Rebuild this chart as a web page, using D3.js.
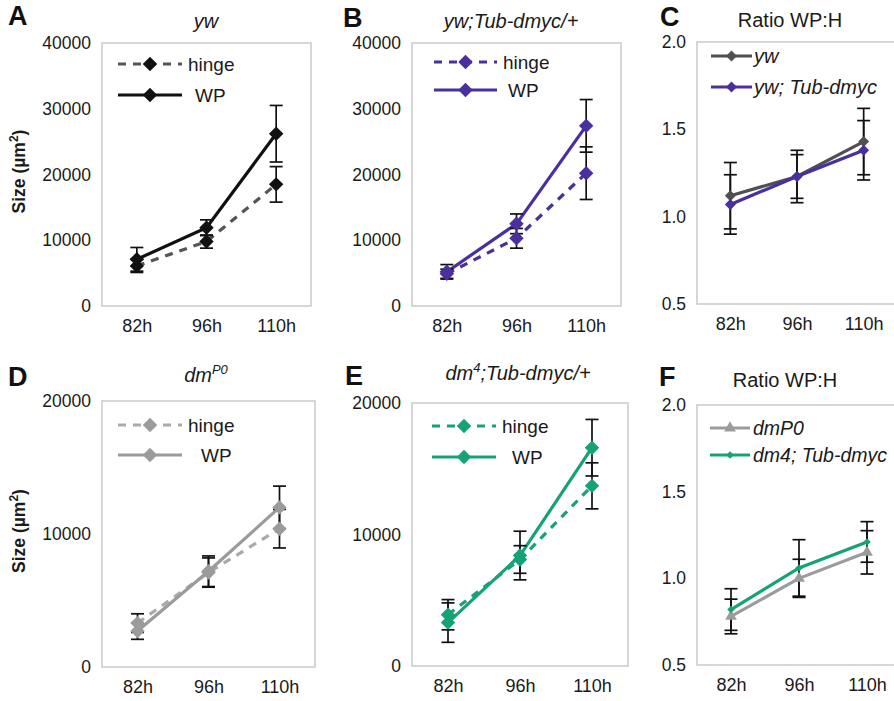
<!DOCTYPE html>
<html>
<head>
<meta charset="utf-8">
<script src="https://cdn.jsdelivr.net/npm/d3@7"></script>
<style>
  body { margin: 0; background: #fff; }
  text { font-family: "Liberation Sans", Arial, sans-serif; }
</style>
</head>
<body>
<svg id="fig" width="894" height="701"></svg>
<script>
// time points (x categories)
const times = ["82h", "96h", "110h"];

// A: yw, sizes in um^2
const ywHinge = [6100, 9800, 18500];
const ywHingeErr = [1000, 1000, 2700];
const ywWP = [7100, 11900, 26200];
const ywWPErr = [1800, 1200, 4300];

// B: yw;Tub-dmyc/+
const mycHinge = [4900, 10300, 20200];
const mycHingeErr = [700, 1500, 4000];
const mycWP = [5200, 12500, 27400];
const mycWPErr = [1100, 1500, 4000];

// C: ratio WP:H
const ratioYw = [1.12, 1.23, 1.43];
const ratioYwErr = [0.19, 0.15, 0.19];
const ratioMyc = [1.07, 1.23, 1.38];
const ratioMycErr = [0.17, 0.125, 0.17];

// D: dmP0
const p0Hinge = [3300, 7100, 10400];
const p0HingeErr = [700, 1100, 1450];
const p0WP = [2700, 7200, 12000];
const p0WPErr = [620, 1150, 1600];

// E: dm4;Tub-dmyc/+
const dm4Hinge = [3900, 8100, 13700];
const dm4HingeErr = [1150, 1050, 1750];
const dm4WP = [3300, 8400, 16600];
const dm4WPErr = [1500, 1850, 2150];

// F: ratio WP:H
const ratioP0 = [0.78, 1.0, 1.15];
const ratioP0Err = [0.10, 0.11, 0.125];
const ratioDm4 = [0.82, 1.06, 1.21];
const ratioDm4Err = [0.12, 0.163, 0.117];

// tick values
const sizeTicks40 = [0, 10000, 20000, 30000, 40000];
const sizeTicks20 = [0, 10000, 20000];
const ratioTicks = [0.5, 1.0, 1.5, 2.0];

const black = "#111", purple = "#4a2f9e", green = "#16a277", grey = "#9b9b9b", dark = "#505050";
const FONT = '"Liberation Sans", Arial, sans-serif';

let svg = d3.select("#fig");
svg.append("rect").attr("width", 894).attr("height", 701).attr("fill", "#fff");

function diamond(size) {
  return { path: d3.symbol().type(d3.symbolSquare).size(size)(), rot: 45 };
}
function triangle(size) {
  return { path: d3.symbol().type(d3.symbolTriangle).size(size)(), rot: 0 };
}

function drawPanel(p) {
  let g = svg.append("g");
  let x = d3.scalePoint().domain(times).range([p.x, p.x + p.w]).padding(0.5);
  let y = d3.scaleLinear().domain(p.yDomain).range([p.y + p.h, p.y]);

  // plot frame
  g.append("rect")
    .attr("x", p.x).attr("y", p.y)
    .attr("width", p.w).attr("height", p.h)
    .attr("fill", "none")
    .attr("stroke", "#cdcdcd")
    .attr("stroke-width", 1.6);

  // y axis labels
  let ya = g.append("g")
    .attr("transform", `translate(${p.x},0)`)
    .call(d3.axisLeft(y).tickValues(p.yTicks).tickFormat(p.fmt).tickSize(0).tickPadding(11));
  ya.select(".domain").remove();
  ya.attr("font-family", FONT).attr("font-size", 17.5);
  ya.selectAll("text").attr("fill", "#1a1a1a");

  // x axis labels
  let xa = g.append("g")
    .attr("transform", `translate(0,${p.y + p.h})`)
    .call(d3.axisBottom(x).tickSize(0).tickPadding(13));
  xa.select(".domain").remove();
  xa.attr("font-family", FONT).attr("font-size", 18);
  xa.selectAll("text").attr("fill", "#1a1a1a");

  let line = d3.line().x(d => x(d.t)).y(d => y(d.v));

  // lines
  p.series.forEach(s => {
    let pts = times.map((t, i) => ({ t: t, v: s.values[i], e: s.errs[i] }));
    s.pts = pts;
    g.append("path")
      .datum(pts)
      .attr("d", line)
      .attr("fill", "none")
      .attr("stroke", s.line)
      .attr("stroke-width", s.width || 3.2)
      .attr("stroke-dasharray", s.dash || null);
  });

  // error bars
  p.series.forEach(s => {
    let eb = g.append("g").selectAll("g").data(s.pts).enter().append("g")
      .attr("stroke", black).attr("stroke-width", 1.7);
    eb.append("line")
      .attr("x1", d => x(d.t)).attr("x2", d => x(d.t))
      .attr("y1", d => y(d.v - d.e)).attr("y2", d => y(d.v + d.e));
    eb.append("line")
      .attr("x1", d => x(d.t) - 6.5).attr("x2", d => x(d.t) + 6.5)
      .attr("y1", d => y(d.v + d.e)).attr("y2", d => y(d.v + d.e));
    eb.append("line")
      .attr("x1", d => x(d.t) - 6.5).attr("x2", d => x(d.t) + 6.5)
      .attr("y1", d => y(d.v - d.e)).attr("y2", d => y(d.v - d.e));
  });

  // markers
  p.series.forEach(s => {
    g.append("g").selectAll("path").data(s.pts).enter().append("path")
      .attr("d", s.marker.path)
      .attr("transform", d => `translate(${x(d.t)},${y(d.v)}) rotate(${s.marker.rot})`)
      .attr("fill", s.color);
  });

  // legend
  p.series.forEach((s, i) => {
    let ly = p.legY[i];
    g.append("line")
      .attr("x1", p.legX).attr("x2", p.legX + p.legLen)
      .attr("y1", ly).attr("y2", ly)
      .attr("stroke", s.line)
      .attr("stroke-width", s.width || 3.2)
      .attr("stroke-dasharray", s.dash || null);
    g.append("path")
      .attr("d", s.marker.path)
      .attr("transform", `translate(${p.legX + p.legLen / 2},${ly}) rotate(${s.marker.rot})`)
      .attr("fill", s.color);
    g.append("text")
      .attr("x", p.textX[i]).attr("y", ly).attr("dy", "0.35em")
      .attr("font-size", p.legFont)
      .attr("font-style", p.legItalic ? "italic" : null)
      .attr("fill", "#1a1a1a")
      .text(s.name);
  });

  // panel title
  let t = g.append("text")
    .attr("x", p.titleX).attr("y", p.titleY)
    .attr("text-anchor", "middle")
    .attr("font-size", 20)
    .attr("fill", "#1a1a1a");
  p.title.forEach(part => {
    let sp = t.append("tspan").text(part.text);
    if (part.italic) sp.attr("font-style", "italic");
    if (part.sup) sp.attr("font-size", 13).attr("dy", -8);
    if (part.after) sp.attr("dy", 8);
  });

  // panel letter
  svg.append("text")
    .attr("x", p.letterX).attr("y", p.letterY)
    .attr("font-size", 27).attr("font-weight", "bold")
    .attr("fill", "#111")
    .text(p.letter);

  // y title
  if (p.yTitle) {
    let yt = svg.append("text")
      .attr("transform", `translate(25,${p.y + p.h / 2 - 3}) rotate(-90)`)
      .attr("text-anchor", "middle")
      .attr("font-size", 17.5).attr("font-weight", "bold")
      .attr("fill", "#1a1a1a");
    yt.append("tspan").text("Size (µm");
    yt.append("tspan").attr("font-size", 12).attr("dy", -7).text("2");
    yt.append("tspan").attr("dy", 7).text(")");
  }
}

const big = diamond(104), mid = diamond(60), small = diamond(28);
const sizeFmt = d3.format("d"), ratioFmt = d3.format(".1f");

drawPanel({
  letter: "A", letterX: 8, letterY: 25,
  title: [{ text: "yw", italic: true }], titleX: 206, titleY: 28,
  x: 102, y: 43, w: 209, h: 263, yDomain: [0, 40000], yTicks: sizeTicks40, fmt: sizeFmt, yTitle: true,
  legX: 118, legLen: 64, legY: [64, 95], textX: [188, 195], legFont: 19,
  series: [
    { name: "hinge", values: ywHinge, errs: ywHingeErr, color: black, line: "#555", dash: "8,7", marker: big },
    { name: "WP", values: ywWP, errs: ywWPErr, color: black, line: black, marker: big }
  ]
});

drawPanel({
  letter: "B", letterX: 343, letterY: 27,
  title: [{ text: "yw;Tub-dmyc/+", italic: true }], titleX: 511, titleY: 28,
  x: 412, y: 43, w: 209, h: 263, yDomain: [0, 40000], yTicks: sizeTicks40, fmt: sizeFmt,
  legX: 434, legLen: 63, legY: [62, 90], textX: [503, 508], legFont: 19,
  series: [
    { name: "hinge", values: mycHinge, errs: mycHingeErr, color: purple, line: purple, dash: "8,7", marker: big },
    { name: "WP", values: mycWP, errs: mycWPErr, color: purple, line: purple, marker: big }
  ]
});

drawPanel({
  letter: "C", letterX: 660, letterY: 26,
  title: [{ text: "Ratio WP:H" }], titleX: 790, titleY: 27,
  x: 697, y: 42, w: 200, h: 262, yDomain: [0.5, 2.0], yTicks: ratioTicks, fmt: ratioFmt,
  legX: 711, legLen: 41, legY: [56, 87], textX: [754, 754], legFont: 20, legItalic: true,
  series: [
    { name: "yw", values: ratioYw, errs: ratioYwErr, color: dark, line: dark, marker: mid },
    { name: "yw; Tub-dmyc", values: ratioMyc, errs: ratioMycErr, color: purple, line: purple, marker: mid }
  ]
});

drawPanel({
  letter: "D", letterX: 8, letterY: 386,
  title: [{ text: "dm", italic: true }, { text: "P0", italic: true, sup: true }], titleX: 206, titleY: 382,
  x: 102, y: 401, w: 213, h: 266, yDomain: [0, 20000], yTicks: sizeTicks20, fmt: sizeFmt, yTitle: true,
  legX: 118, legLen: 64, legY: [425, 455], textX: [188, 201], legFont: 19,
  series: [
    { name: "hinge", values: p0Hinge, errs: p0HingeErr, color: grey, line: "#aaa", dash: "8,7", marker: big },
    { name: "WP", values: p0WP, errs: p0WPErr, color: grey, line: grey, marker: big }
  ]
});

drawPanel({
  letter: "E", letterX: 345, letterY: 385,
  title: [{ text: "dm", italic: true }, { text: "4", italic: true, sup: true }, { text: ";Tub-dmyc/+", italic: true, after: true }],
  titleX: 518, titleY: 380,
  x: 412, y: 403, w: 216, h: 263, yDomain: [0, 20000], yTicks: sizeTicks20, fmt: sizeFmt,
  legX: 432, legLen: 64, legY: [426, 457], textX: [502, 512], legFont: 19,
  series: [
    { name: "hinge", values: dm4Hinge, errs: dm4HingeErr, color: green, line: green, dash: "8,7", marker: big },
    { name: "WP", values: dm4WP, errs: dm4WPErr, color: green, line: green, marker: big }
  ]
});

drawPanel({
  letter: "F", letterX: 659, letterY: 386,
  title: [{ text: "Ratio WP:H" }], titleX: 785, titleY: 387,
  x: 697, y: 405, w: 204, h: 260, yDomain: [0.5, 2.0], yTicks: ratioTicks, fmt: ratioFmt,
  legX: 710, legLen: 40, legY: [428, 455], textX: [753, 753], legFont: 19.5, legItalic: true,
  series: [
    { name: "dmP0", values: ratioP0, errs: ratioP0Err, color: grey, line: grey, marker: triangle(60) },
    { name: "dm4; Tub-dmyc", values: ratioDm4, errs: ratioDm4Err, color: green, line: green, marker: small }
  ]
});
</script>
</body>
</html>
